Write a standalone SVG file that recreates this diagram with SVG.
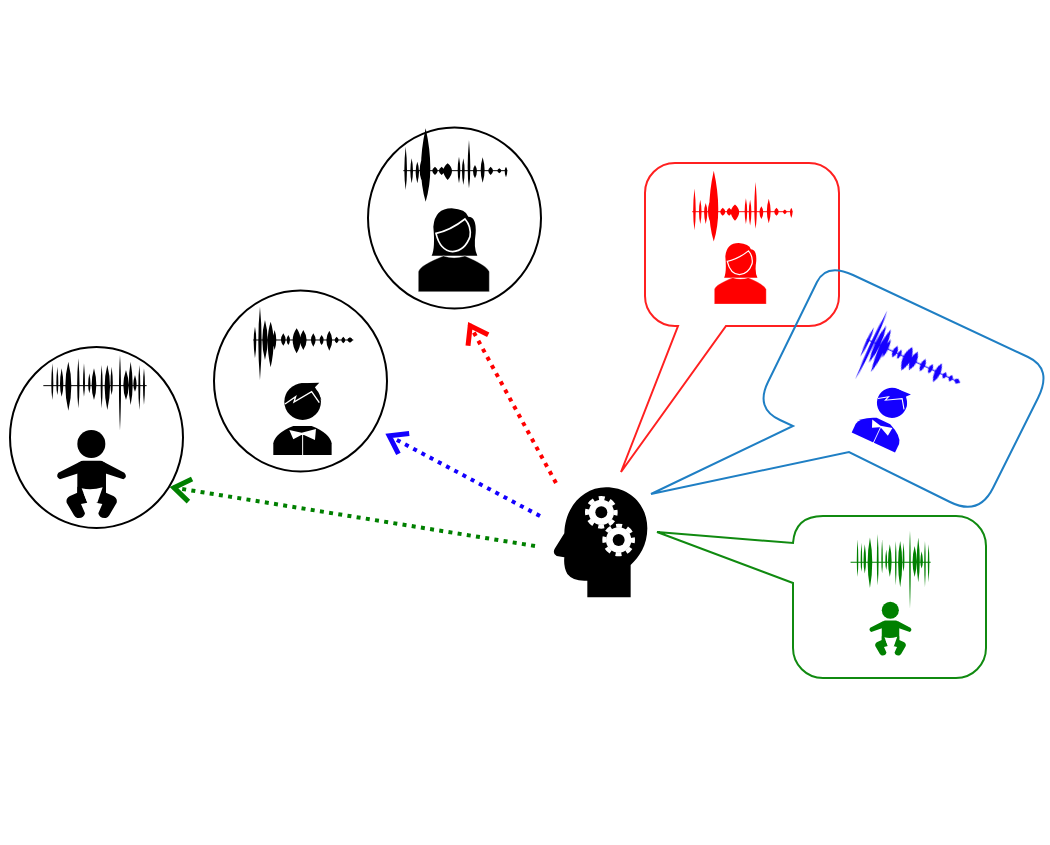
<svg xmlns="http://www.w3.org/2000/svg" width="1050" height="845" viewBox="0 0 1050 845">
<style>
.ring{fill:none;stroke:#000;stroke-width:2}
.bubble{fill:none;stroke-width:2}
.flow{fill:none;stroke-width:4;stroke-dasharray:4 5.3}
.ico{fill:currentColor}
.wh{fill:#fff}
.wl{fill:none;stroke:#fff}
.base{fill:none;stroke:currentColor;stroke-width:3}
.head{fill:none;stroke-width:5}
</style>
<defs>
<filter id="soft" x="-10%" y="-10%" width="120%" height="120%"><feGaussianBlur stdDeviation="0.4"/></filter>
<marker id="ag" markerUnits="userSpaceOnUse" markerWidth="32" markerHeight="32" refX="26" refY="16" orient="auto"><path class="head" stroke="#008000" d="M5.500 4.500L22 16L5.500 27.500"/></marker>
<marker id="ab" markerUnits="userSpaceOnUse" markerWidth="32" markerHeight="32" refX="26" refY="16" orient="auto"><path class="head" stroke="#1400ff" d="M5.500 4.500L22 16L5.500 27.500"/></marker>
<marker id="ar" markerUnits="userSpaceOnUse" markerWidth="32" markerHeight="32" refX="26" refY="16" orient="auto"><path class="head" stroke="#ff0000" d="M5.500 4.500L22 16L5.500 27.500"/></marker>
<g id="wave-baby" filter="url(#soft)"><g transform="translate(0,280) scale(.3333)">
<path class="base" d="M130 317H440"/>
<path class="ico" d="M157 250Q163 317 157 360Q151 317 157 250ZM172 260Q178 317 172 345Q166 317 172 260ZM185 265Q195 317 185 350Q175 317 185 265ZM205 245Q223 317 205 392Q187 317 205 245ZM235 235Q242 317 235 385Q228 317 235 235ZM252 250Q258 317 252 350Q246 317 252 250ZM268 280Q275 317 268 340Q261 317 268 280ZM282 265Q296 317 282 360Q268 317 282 265ZM305 255Q311 317 305 385Q299 317 305 255ZM322 255Q338 317 322 390Q306 317 322 255ZM335 260Q342 317 335 345Q328 317 335 260ZM360 225Q366 317 360 452Q354 317 360 225ZM378 270Q394 317 378 360Q362 317 378 270ZM392 245Q404 317 392 375Q380 317 392 245ZM405 285Q415 317 405 335Q395 317 405 285ZM418 255Q424 317 418 390Q412 317 418 255ZM432 265Q438 317 432 375Q426 317 432 265Z"/>
</g></g>
<g id="wave-man" filter="url(#soft)"><g transform="translate(0,280) scale(.3333)">
<path class="base" d="M760 180H1060"/>
<path class="ico" d="M765 140Q773 180 765 235Q757 180 765 140ZM780 80Q790 180 780 300Q770 180 780 80ZM795 120Q811 180 795 240Q779 180 795 120ZM812 125Q830 180 812 262Q794 180 812 125ZM824 150Q834 180 824 210Q814 180 824 150ZM850 160Q864 180 850 197Q836 180 850 160ZM865 165Q875 180 865 195Q855 180 865 165ZM890 145Q914 180 890 220Q866 180 890 145ZM910 150Q930 180 910 210Q890 180 910 150ZM940 160Q954 180 940 200Q926 180 940 160ZM965 165Q977 180 965 195Q953 180 965 165ZM988 152Q1006 180 988 212Q970 180 988 152ZM1010 170Q1022 180 1010 190Q998 180 1010 170ZM1030 170Q1042 180 1030 190Q1018 180 1030 170ZM1050 172Q1066 180 1050 188Q1034 180 1050 172Z"/>
</g></g>
<g id="wave-woman" filter="url(#soft)"><g transform="translate(360,120) scale(.3333)">
<path class="base" d="M130 152H442"/>
<path class="ico" d="M137 80Q145 152 137 210Q129 152 137 80ZM155 115Q163 152 155 190Q147 152 155 115ZM172 125Q182 152 172 190Q162 152 172 125ZM184 120Q194 152 184 180Q174 152 184 120ZM197 25Q225 152 197 245Q169 152 197 25ZM225 140Q241 152 225 165Q209 152 225 140ZM245 140Q261 152 245 165Q229 152 245 140ZM263 130Q289 152 263 180Q237 152 263 130ZM297 110Q305 152 297 190Q289 152 297 110ZM310 115Q318 152 310 195Q302 152 310 115ZM327 60Q335 152 327 205Q319 152 327 60ZM345 135Q357 152 345 175Q333 152 345 135ZM368 112Q380 152 368 188Q356 152 368 112ZM392 140Q406 152 392 165Q378 152 392 140ZM418 145Q430 152 418 160Q406 152 418 145ZM438 140Q446 152 438 172Q430 152 438 140Z"/>
</g></g>
<g id="baby"><g transform="translate(0,280) scale(.3333)">
<circle class="ico" cx="274" cy="492" r="42"/>
<path class="ico" d="M232 560Q235 542 250 542H300Q315 542 318 560V640H232Z"/>
<path class="ico" d="M240 545L175 578Q166 590 180 598L240 578ZM310 545L373 578Q384 590 370 598L310 578Z"/>
<path class="ico" d="M232 620L245 625L262 668L243 672L255 700Q252 716 232 714Q226 712 222 706L200 668Q197 655 210 648L232 638Z"/>
<path class="ico" d="M318 620L305 625L288 668L307 672L295 700Q298 716 318 714Q324 712 328 706L350 668Q353 655 340 648L318 638Z"/>
<path class="wh" d="M245 625Q275 632 308 622L292 668H262Z"/>
</g></g>
<g id="man"><g transform="translate(0,280) scale(.3333)">
<circle class="ico" cx="908" cy="365" r="55"/>
<path class="ico" d="M900 310L958 308L945 322L965 360L940 330Z"/>
<path class="ico" d="M820 525V490Q825 460 880 438H935Q990 460 995 490V525Z"/>
<path class="wh" d="M868 450L905 458L948 447L945 480L912 465H904L880 478Z"/>
<path class="wl" stroke-width="3" d="M908 465V527"/>
<path class="wl" stroke-width="4" d="M855 372L887 350L882 366L935 335L958 368"/>
</g></g>
<g id="woman"><g transform="translate(360,120) scale(.3333)">
<path class="ico" d="M215 407Q226 385 220 320Q225 265 275 265Q318 268 325 290Q350 290 347 340Q340 385 352 407H300L250 407Z"/>
<path class="ico" d="M228 340Q270 332 315 297Q335 320 330 350Q315 392 278 395Q240 392 228 340Z" stroke="#fff" stroke-width="5"/>
<path class="ico" d="M175 515V455Q180 435 250 408Q282 418 315 408Q380 435 388 455V515Z" stroke="#fff" stroke-width="1"/>
</g></g>
<g id="gear"><circle class="wh" r="38"/><circle r="43" fill="none" stroke="#fff" stroke-width="12" stroke-dasharray="18 15.770" stroke-dashoffset="9"/><circle r="18" fill="#000"/></g>
</defs>

<g id="connectors">
<path class="flow" stroke="#008000" d="M535 546L170 487" marker-end="url(#ag)"/>
<path class="flow" stroke="#1400ff" d="M540 516L385.700 434" marker-end="url(#ab)"/>
<path class="flow" stroke="#ff0000" d="M556 483L468.300 322.300" marker-end="url(#ar)"/>
</g>

<g id="node-baby"><ellipse class="ring" cx="96.500" cy="437.500" rx="86.500" ry="90.500"/><use href="#wave-baby" color="#000"/><use href="#baby" color="#000"/></g>
<g id="node-man"><ellipse class="ring" cx="300.500" cy="381" rx="86.500" ry="90.500"/><use href="#wave-man" color="#000"/><use href="#man" color="#000"/></g>
<g id="node-woman"><ellipse class="ring" cx="454.500" cy="218" rx="86.500" ry="90.500"/><use href="#wave-woman" color="#000"/><use href="#woman" color="#000"/></g>

<g id="node-head"><g transform="translate(530,470) scale(.3333)">
<path fill="#000" d="M172 382V332Q130 335 112 312Q100 290 103 262L80 258Q66 250 75 235L103 190C105 110 160 52 228 52C300 52 352 105 352 175C352 225 328 262 302 285V382Z"/>
<use href="#gear" transform="translate(214,127)"/>
<use href="#gear" transform="translate(266,210)"/>
</g></g>

<g id="bubble-woman"><path class="bubble" stroke="#ff2020" d="M675 163H809A30 30 0 0 1 839 193V296A30 30 0 0 1 809 326H726L621 472L678 326H675A30 30 0 0 1 645 296V193A30 30 0 0 1 675 163Z"/>
<use href="#wave-woman" color="#ff0000" transform="translate(303,47) scale(.965)"/>
<use href="#woman" color="#ff0000" transform="translate(409,91) scale(.73)"/></g>

<g id="bubble-man"><path class="bubble" stroke="#1f7fc4" d="M853 275L1028 357Q1052.700 368.600 1038 398L993 488Q978.900 516.300 950 502L849 452L651 494L793 426L780 420Q755 408.500 768 382L817 282Q826.500 262.600 853 275Z"/>
<use href="#wave-man" color="#1400ff" transform="translate(873,342) rotate(25) scale(1.03) translate(-260,-340)"/>
<use href="#man" color="#1400ff" transform="translate(892,403) rotate(25) scale(.82) translate(-302.7,-401.7)"/></g>

<g id="bubble-baby"><path class="bubble" stroke="#108a10" d="M823 516H956A30 30 0 0 1 986 546V648A30 30 0 0 1 956 678H823A30 30 0 0 1 793 648V583L657 532L793 543Q795 516 823 516Z"/>
<use href="#wave-baby" color="#008000" transform="translate(817,165) scale(.775,1.03)"/>
<use href="#baby" color="#008000" transform="translate(834.6,339.5) scale(.61)"/></g>
</svg>
